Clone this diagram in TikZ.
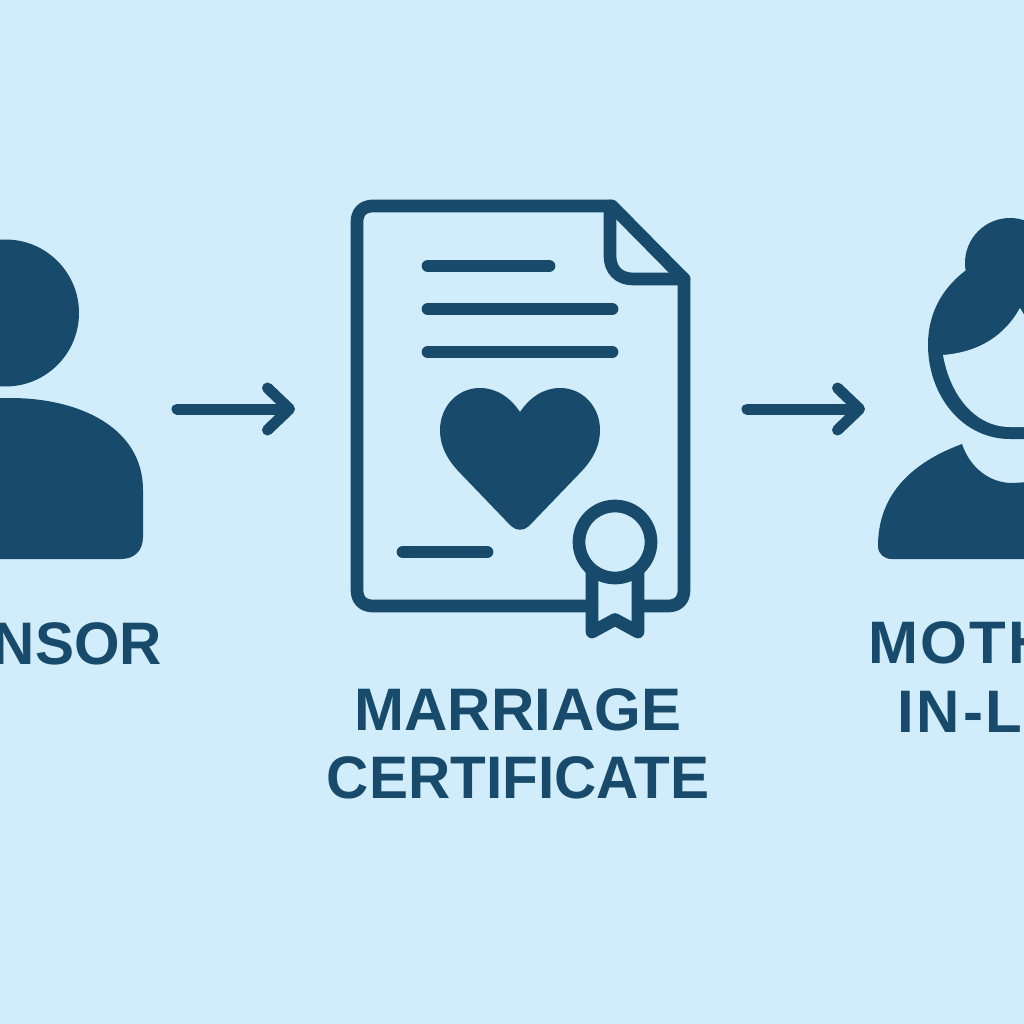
\documentclass[tikz,border=0pt]{standalone}
\usepackage{fontspec}
\setmainfont{Liberation Sans}
\newfontfamily\narrowfont[FakeStretch=0.975]{Liberation Sans}
\usetikzlibrary{arrows.meta}
\definecolor{bgc}{HTML}{D1ECFA}
\definecolor{ink}{HTML}{174A6B}
\tikzset{
  shape fill/.style={fill=ink,draw=none},
  outline/.style={draw=ink,line width=12.7pt,line cap=round,line join=round},
  flow/.style={draw=ink,line width=11pt,line cap=round,-{Straight Barb[length=22pt,width=42pt,round]}},
  label/.style={text=ink,font=\fontsize{60}{60}\selectfont\bfseries,inner sep=0pt,outer sep=0pt}
}
\begin{document}
\begin{tikzpicture}[x=1pt,y=-1pt]
\useasboundingbox (0,0) rectangle (1024,1024);
\clip (0,0) rectangle (1024,1024);
\fill[bgc] (0,0) rectangle (1024,1024);
% sponsor
\fill[ink] (5.5,313) circle (73.5pt);
\path[shape fill] (-10,398) -- (10,398) .. controls (80,398) and (143,428) .. (143,490) -- (143,537)
  .. controls (143,551) and (134,559) .. (121,559) -- (-10,559) -- cycle;
% document
\path[outline] (371,206) -- (612,206) -- (684,279) -- (684,590)
  .. controls (684,600) and (678,606) .. (668,606) -- (373,606)
  .. controls (363,606) and (357,600) .. (357,590) -- (357,222)
  .. controls (357,212) and (363,206) .. (373,206) -- cycle;
\path[outline] (610,206) -- (610,256) .. controls (610,270) and (619,279) .. (633,279) -- (684,279);
\path[outline] (428,266) -- (549,266);
\path[outline] (428,309) -- (612,309);
\path[outline] (428,352) -- (612,352);
\path[outline] (403,552) -- (487,552);
\path[shape fill] (520,412) .. controls (510,397) and (496,388) .. (480,388)
  .. controls (457,388) and (440,407) .. (440,430) .. controls (440,449) and (450,463) .. (462,475)
  -- (511,526) .. controls (516,531) and (524,531) .. (529,526) -- (578,475)
  .. controls (590,463) and (600,449) .. (600,430) .. controls (600,407) and (583,388) .. (560,388)
  .. controls (544,388) and (530,397) .. (520,412) -- cycle;
% seal
\path[outline,fill=bgc] (592,565) -- (592,632) -- (615,619.5) -- (638,632) -- (638,565) -- cycle;
\path[draw=ink,line width=12.7pt,fill=bgc] (615,542) circle (36pt);
% mother-in-law
\fill[ink] (1010,263) circle (45pt);
\path[shape fill] (1030,439) -- (1010,439) .. controls (962,439) and (928,395) .. (928,345)
  .. controls (928,310) and (945,285) .. (969,268) -- (1030,250) -- cycle;
\path[fill=bgc] (943,355) .. controls (980,352) and (1005,335) .. (1020,308) -- (1030,325) -- (1030,427)
  -- (1010,427) .. controls (975,427) and (950,395) .. (943,355) -- cycle;
\path[shape fill] (892,559) .. controls (884,559) and (878,554) .. (878,546)
  .. controls (878,500) and (905,465) .. (962,444)
  .. controls (970,468) and (990,483) .. (1012,483) -- (1030,482) -- (1030,559) -- cycle;
% arrows
\coordinate (a1s) at (177,409); \coordinate (a1e) at (295,409);
\coordinate (a2s) at (747,409); \coordinate (a2e) at (865,409);
\draw[flow] (a1s) -- (a1e);
\draw[flow] (a2s) -- (a2e);
% labels
\node[label,anchor=base east] (sponsor) at (162,664) {\narrowfont\bfseries NSOR};
\node[label,anchor=base] (cert1) at (518,730) {MARRIAGE};
\node[label,anchor=base] (cert2) at (518,798) {\narrowfont\bfseries CERTIFICATE};
\node[label,anchor=base west] (mother1) at (868,663) {\addfontfeature{LetterSpace=4}MOTH};
\node[label,anchor=base west] (mother2) at (897,732) {\addfontfeature{LetterSpace=5}IN-LA};
\end{tikzpicture}
\end{document}
